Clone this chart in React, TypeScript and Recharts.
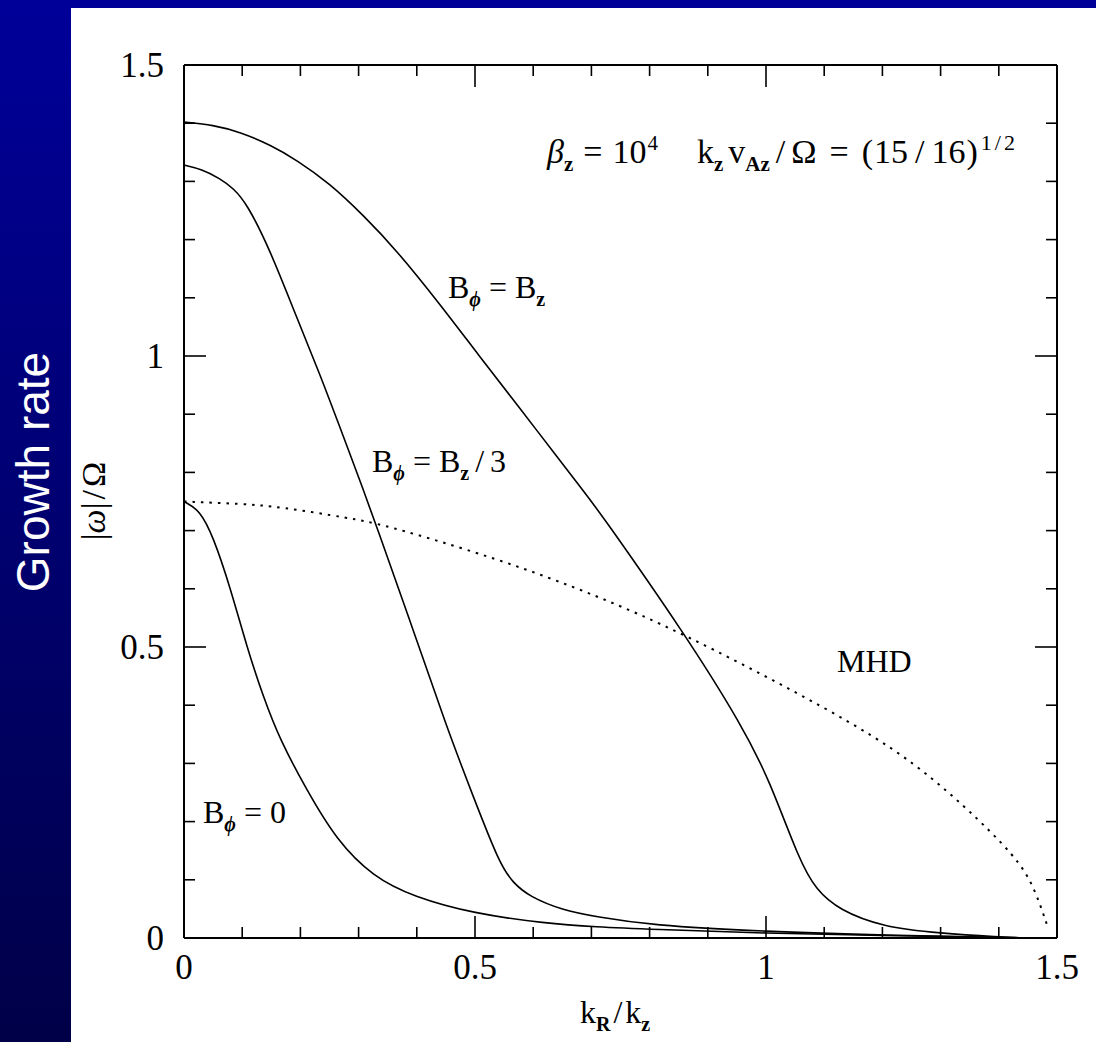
import React from 'react';
import { LineChart, Line, XAxis, YAxis } from 'recharts';

// ---- data ----
const axisTicks = [0, 0.1, 0.2, 0.3, 0.4, 0.5, 0.6, 0.7, 0.8, 0.9, 1, 1.1, 1.2, 1.3, 1.4, 1.5];
const majorTickLabels: Record<string, string> = { '0': '0', '0.5': '0.5', '1': '1', '1.5': '1.5' };

const kEqual = [0, 0.05, 0.096, 0.15, 0.193, 0.25, 0.308, 0.365, 0.439, 0.508, 0.568, 0.594, 0.697, 0.714, 0.86, 0.96, 1.006, 1.057, 1.086, 1.126, 1.2, 1.3, 1.4, 1.45];
const gEqual = [1.402, 1.397, 1.385, 1.362, 1.337, 1.297, 1.242, 1.182, 1.09, 0.999, 0.922, 0.888, 0.754, 0.732, 0.5235, 0.363, 0.271, 0.134, 0.0825, 0.048, 0.019, 0.008, 0.002, 0];

const kThird = [0, 0.03, 0.062, 0.085, 0.108, 0.148, 0.193, 0.233, 0.262, 0.302, 0.331, 0.394, 0.451, 0.497, 0.542, 0.565, 0.594, 0.65, 0.708, 0.8, 1.0, 1.2, 1.45];
const gThird = [1.328, 1.321, 1.305, 1.288, 1.262, 1.182, 1.0675, 0.97, 0.893, 0.787, 0.707, 0.529, 0.363, 0.243, 0.128, 0.095, 0.071, 0.048, 0.0366, 0.022, 0.011, 0.005, 0];

const kZero = [0, 0.0275, 0.05, 0.079, 0.108, 0.136, 0.165, 0.211, 0.262, 0.325, 0.394, 0.497, 0.622, 0.708, 0.8, 1.0, 1.2, 1.4];
const gZero = [0.75, 0.735, 0.69, 0.604, 0.5, 0.415, 0.34, 0.254, 0.168, 0.105, 0.071, 0.042, 0.025, 0.019, 0.015, 0.008, 0.004, 0.001];

const kMhd = [0, 0.1, 0.165, 0.285, 0.336, 0.542, 0.708, 0.857, 1.057, 1.229, 1.343, 1.429, 1.46, 1.483];
const gMhd = [0.75, 0.746, 0.741, 0.721, 0.7125, 0.651, 0.589, 0.5235, 0.42, 0.323, 0.2256, 0.14, 0.09, 0.022];

const toRows = (xs: number[], ys: number[]) => xs.map((x, i) => ({ x, y: ys[i] }));

const SERIF = '"Liberation Serif", "DejaVu Serif", serif';
const isMajor = (v: number) => Math.abs(v * 2 - Math.round(v * 2)) < 1e-6;
const labelOf = (v: number) => majorTickLabels[String(+v.toFixed(1))];

const MINOR = 11;
const MAJOR = 22;
const TW = 1.6;

const BottomTick = (p: any) => {
  const { x, y, payload } = p;
  const v = payload.value;
  const m = isMajor(v);
  return (
    <g>
      <line x1={x} y1={y} x2={x} y2={y - (m ? MAJOR : MINOR)} stroke="#000" strokeWidth={TW} />
      {m && (
        <text x={x} y={y + 41} textAnchor="middle" fontFamily={SERIF} fontSize={35} fill="#000">
          {labelOf(v)}
        </text>
      )}
    </g>
  );
};
const TopTick = (p: any) => {
  const { x, y, payload } = p;
  const m = isMajor(payload.value);
  return <line x1={x} y1={y} x2={x} y2={y + (m ? MAJOR : MINOR)} stroke="#000" strokeWidth={TW} />;
};
const LeftTick = (p: any) => {
  const { x, y, payload } = p;
  const v = payload.value;
  const m = isMajor(v);
  return (
    <g>
      <line x1={x} y1={y} x2={x + (m ? MAJOR : MINOR)} y2={y} stroke="#000" strokeWidth={TW} />
      {m && (
        <text x={x - 20} y={y + 12} textAnchor="end" fontFamily={SERIF} fontSize={35} fill="#000">
          {labelOf(v)}
        </text>
      )}
    </g>
  );
};
const RightTick = (p: any) => {
  const { x, y, payload } = p;
  const m = isMajor(payload.value);
  return <line x1={x} y1={y} x2={x - (m ? MAJOR : MINOR)} y2={y} stroke="#000" strokeWidth={TW} />;
};

const W = 1096;
const H = 1042;
const axisLineStyle = { stroke: '#000', strokeWidth: 2 };

export default function App() {
  const fs = 32;
  const sub = 20;
  const eq = 8;
  return (
    <div style={{ position: 'absolute', left: 0, top: 0, width: W, height: H, background: '#fff', overflow: 'hidden' }}>
      <div style={{ position: 'absolute', left: 0, top: 0, width: W, height: 8, background: '#000099' }} />
      <div style={{ position: 'absolute', left: 0, top: 0, width: 71, height: H, background: 'linear-gradient(#000099, #000048)' }} />
      <div style={{ position: 'absolute', left: 0, top: 0 }}>
        <LineChart width={W} height={H} margin={{ top: 64, right: 38, bottom: 103, left: 183 }}>
          <XAxis xAxisId="b" dataKey="x" type="number" domain={[0, 1.5]} allowDataOverflow ticks={axisTicks} interval={0}
            height={1} tickSize={0} tickMargin={0} tickLine={false} tick={<BottomTick />} axisLine={axisLineStyle} />
          <XAxis xAxisId="t" orientation="top" dataKey="x" type="number" domain={[0, 1.5]} allowDataOverflow ticks={axisTicks} interval={0}
            height={1} tickSize={0} tickMargin={0} tickLine={false} tick={<TopTick />} axisLine={axisLineStyle} />
          <YAxis yAxisId="l" type="number" domain={[0, 1.5]} allowDataOverflow ticks={axisTicks} interval={0}
            width={1} tickSize={0} tickMargin={0} tickLine={false} tick={<LeftTick />} axisLine={axisLineStyle} />
          <YAxis yAxisId="r" orientation="right" type="number" domain={[0, 1.5]} allowDataOverflow ticks={axisTicks} interval={0}
            width={1} tickSize={0} tickMargin={0} tickLine={false} tick={<RightTick />} axisLine={axisLineStyle} />
          <Line xAxisId="b" yAxisId="l" data={toRows(kEqual, gEqual)} dataKey="y" type="basis" stroke="#000" strokeWidth={1.6} dot={false} isAnimationActive={false} />
          <Line xAxisId="b" yAxisId="l" data={toRows(kThird, gThird)} dataKey="y" type="basis" stroke="#000" strokeWidth={1.6} dot={false} isAnimationActive={false} />
          <Line xAxisId="b" yAxisId="l" data={toRows(kZero, gZero)} dataKey="y" type="basis" stroke="#000" strokeWidth={1.6} dot={false} isAnimationActive={false} />
          <Line xAxisId="b" yAxisId="l" data={toRows(kMhd, gMhd)} dataKey="y" type="basis" stroke="#000" strokeWidth={2} strokeDasharray="2.5 6" dot={false} isAnimationActive={false} />
        </LineChart>
      </div>
      <svg width={W} height={H} style={{ position: 'absolute', left: 0, top: 0, pointerEvents: 'none' }} fontFamily={SERIF} fill="#000">
        {/* sidebar title */}
        <text transform="translate(49,472) rotate(-90)" textAnchor="middle" fontFamily='"Liberation Sans", Arial, sans-serif' fontSize={46} fill="#fff">Growth rate</text>
        {/* y axis label */}
        <text transform="translate(105,501) rotate(-90)" textAnchor="middle" fontSize={34}>
          <tspan>|</tspan><tspan fontStyle="italic">ω</tspan><tspan>|</tspan><tspan dx={3}>/</tspan><tspan dx={3}>Ω</tspan>
        </text>
        {/* x axis label */}
        <text x={580} y={1023} fontSize={fs}>
          <tspan>k</tspan><tspan fontSize={sub} fontWeight="bold" dy={8}>R</tspan><tspan dy={-8} dx={3}>/</tspan><tspan dx={3}>k</tspan><tspan fontSize={sub} fontWeight="bold" dy={8}>z</tspan>
        </text>
        {/* parameters */}
        <text x={547} y={163} fontSize={34}>
          <tspan fontStyle="italic">β</tspan><tspan fontSize={21} fontWeight="bold" dy={8}>z</tspan><tspan dy={-8} dx={10}>=</tspan><tspan dx={10}>10</tspan><tspan fontSize={21} dy={-13} dx={1}>4</tspan>
        </text>
        <text x={697} y={163} fontSize={34}>
          <tspan>k</tspan><tspan fontSize={21} fontWeight="bold" dy={8}>z</tspan><tspan dy={-8} dx={5}>v</tspan><tspan fontSize={21} fontWeight="bold" dy={8}>Az</tspan><tspan dy={-8} dx={6}>/</tspan><tspan dx={6}>Ω</tspan><tspan dx={13}>=</tspan><tspan dx={13}>(</tspan><tspan dx={1}>15</tspan><tspan dx={7}>/</tspan><tspan dx={7}>16</tspan><tspan dx={1}>)</tspan><tspan fontSize={22} dy={-13} dx={3}>1</tspan><tspan fontSize={22} dx={3}>/</tspan><tspan fontSize={22} dx={3}>2</tspan>
        </text>
        {/* curve labels */}
        <text x={448} y={298} fontSize={fs}>
          <tspan>B</tspan><tspan fontSize={sub} fontStyle="italic" fontWeight="bold" dy={8}>ϕ</tspan><tspan dy={-8} dx={eq}>=</tspan><tspan dx={eq}>B</tspan><tspan fontSize={sub} fontWeight="bold" dy={8}>z</tspan>
        </text>
        <text x={372} y={472} fontSize={fs}>
          <tspan>B</tspan><tspan fontSize={sub} fontStyle="italic" fontWeight="bold" dy={8}>ϕ</tspan><tspan dy={-8} dx={eq}>=</tspan><tspan dx={eq}>B</tspan><tspan fontSize={sub} fontWeight="bold" dy={8}>z</tspan><tspan dy={-8} dx={6}>/</tspan><tspan dx={6}>3</tspan>
        </text>
        <text x={203} y={823} fontSize={fs}>
          <tspan>B</tspan><tspan fontSize={sub} fontStyle="italic" fontWeight="bold" dy={8}>ϕ</tspan><tspan dy={-8} dx={eq}>=</tspan><tspan dx={eq}>0</tspan>
        </text>
        <text x={837} y={672} fontSize={fs}>MHD</text>
      </svg>
    </div>
  );
}
